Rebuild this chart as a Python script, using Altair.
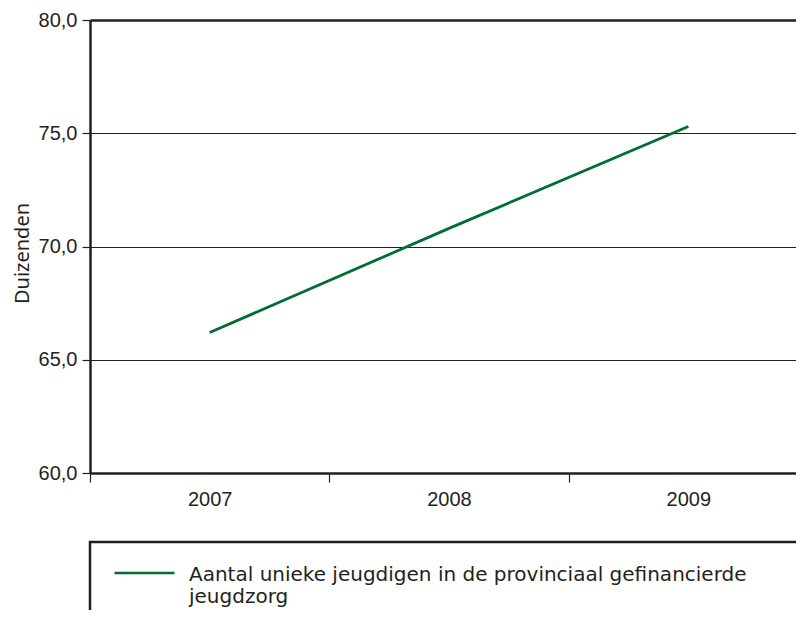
import altair as alt
import pandas as pd

# ---- data ----
years = ["2007", "2008", "2009"]
values = [66.2, 70.8, 75.3]
series_name = "Aantal unieke jeugdigen in de provinciaal gefinancierde\njeugdzorg"
y_ticks = [60, 65, 70, 75, 80]

df = pd.DataFrame({"jaar": years, "waarde": values, "reeks": [series_name] * len(years)})

DARK = "#231f20"
GREEN = "#006e32"
FONT = "Liberation Sans"
FONT2 = "Noto Sans"
FONT3 = "DejaVu Sans"
FS = 20

line = alt.Chart(df).mark_line(strokeWidth=2.8).encode(
    x=alt.X(
        "jaar:O",
        bandPosition=0.5,
        scale=alt.Scale(type="band", paddingInner=0, paddingOuter=0),
        axis=alt.Axis(
            title=None,
            labelAngle=0,
            tickBand="extent",
            domainColor=DARK,
            domainWidth=2.5,
            tickColor=DARK,
            tickWidth=1.2,
            tickSize=9,
            labelPadding=7,
            labelFont=FONT,
            labelFontSize=FS,
            labelColor=DARK,
            grid=False,
        ),
    ),
    y=alt.Y(
        "waarde:Q",
        scale=alt.Scale(domain=[60, 80], nice=False, zero=False),
        axis=alt.Axis(
            title="Duizenden",
            values=y_ticks,
            labelExpr="replace(format(datum.value, '.1f'), '.', ',')",
            domainColor=DARK,
            domainWidth=2.5,
            tickColor=DARK,
            tickWidth=1.2,
            tickSize=8,
            labelPadding=5,
            labelFont=FONT,
            labelFontSize=FS,
            labelColor=DARK,
            grid=True,
            gridColor=DARK,
            gridWidth={"condition": {"test": "datum.value == 80", "value": 2.5}, "value": 1},
            titleFont=FONT2,
            titleFontSize=FS,
            titleFontWeight="normal",
            titleColor=DARK,
            titleBaseline="alphabetic",
            titleX=-62,
            titleY=233,
        ),
    ),
    color=alt.Color(
        "reeks:N",
        scale=alt.Scale(domain=[series_name], range=[GREEN]),
        legend=alt.Legend(
            orient="none",
            legendX=23,
            legendY=513,
            title=None,
            symbolType="M-1,0.28L1,0.28",
            symbolSize=3600,
            symbolStrokeWidth=2.5,
            labelFont=FONT3,
            labelFontSize=20,
            labelColor=DARK,
            labelLimit=800,
            labelOffset=13,
            labelBaseline="top",
            labelExpr="split(datum.label, '\\n')",
        ),
    ),
)

frame = alt.Chart(alt.Data(values=[{}])).mark_rect(
    fill="white", fillOpacity=0, stroke=DARK, strokeWidth=2.5
).encode(
    x=alt.value(0), x2=alt.value(760), y=alt.value(522), y2=alt.value(660)
)

chart = alt.layer(line, frame).properties(
    width=718,
    height=453,
    autosize=alt.AutoSizeParams(type="none"),
    padding={"left": 82, "top": 12, "right": -12, "bottom": 137},
).configure_view(stroke=None).configure(background="white")

chart.save("out.html", embed_options={"renderer": "svg", "actions": False})
